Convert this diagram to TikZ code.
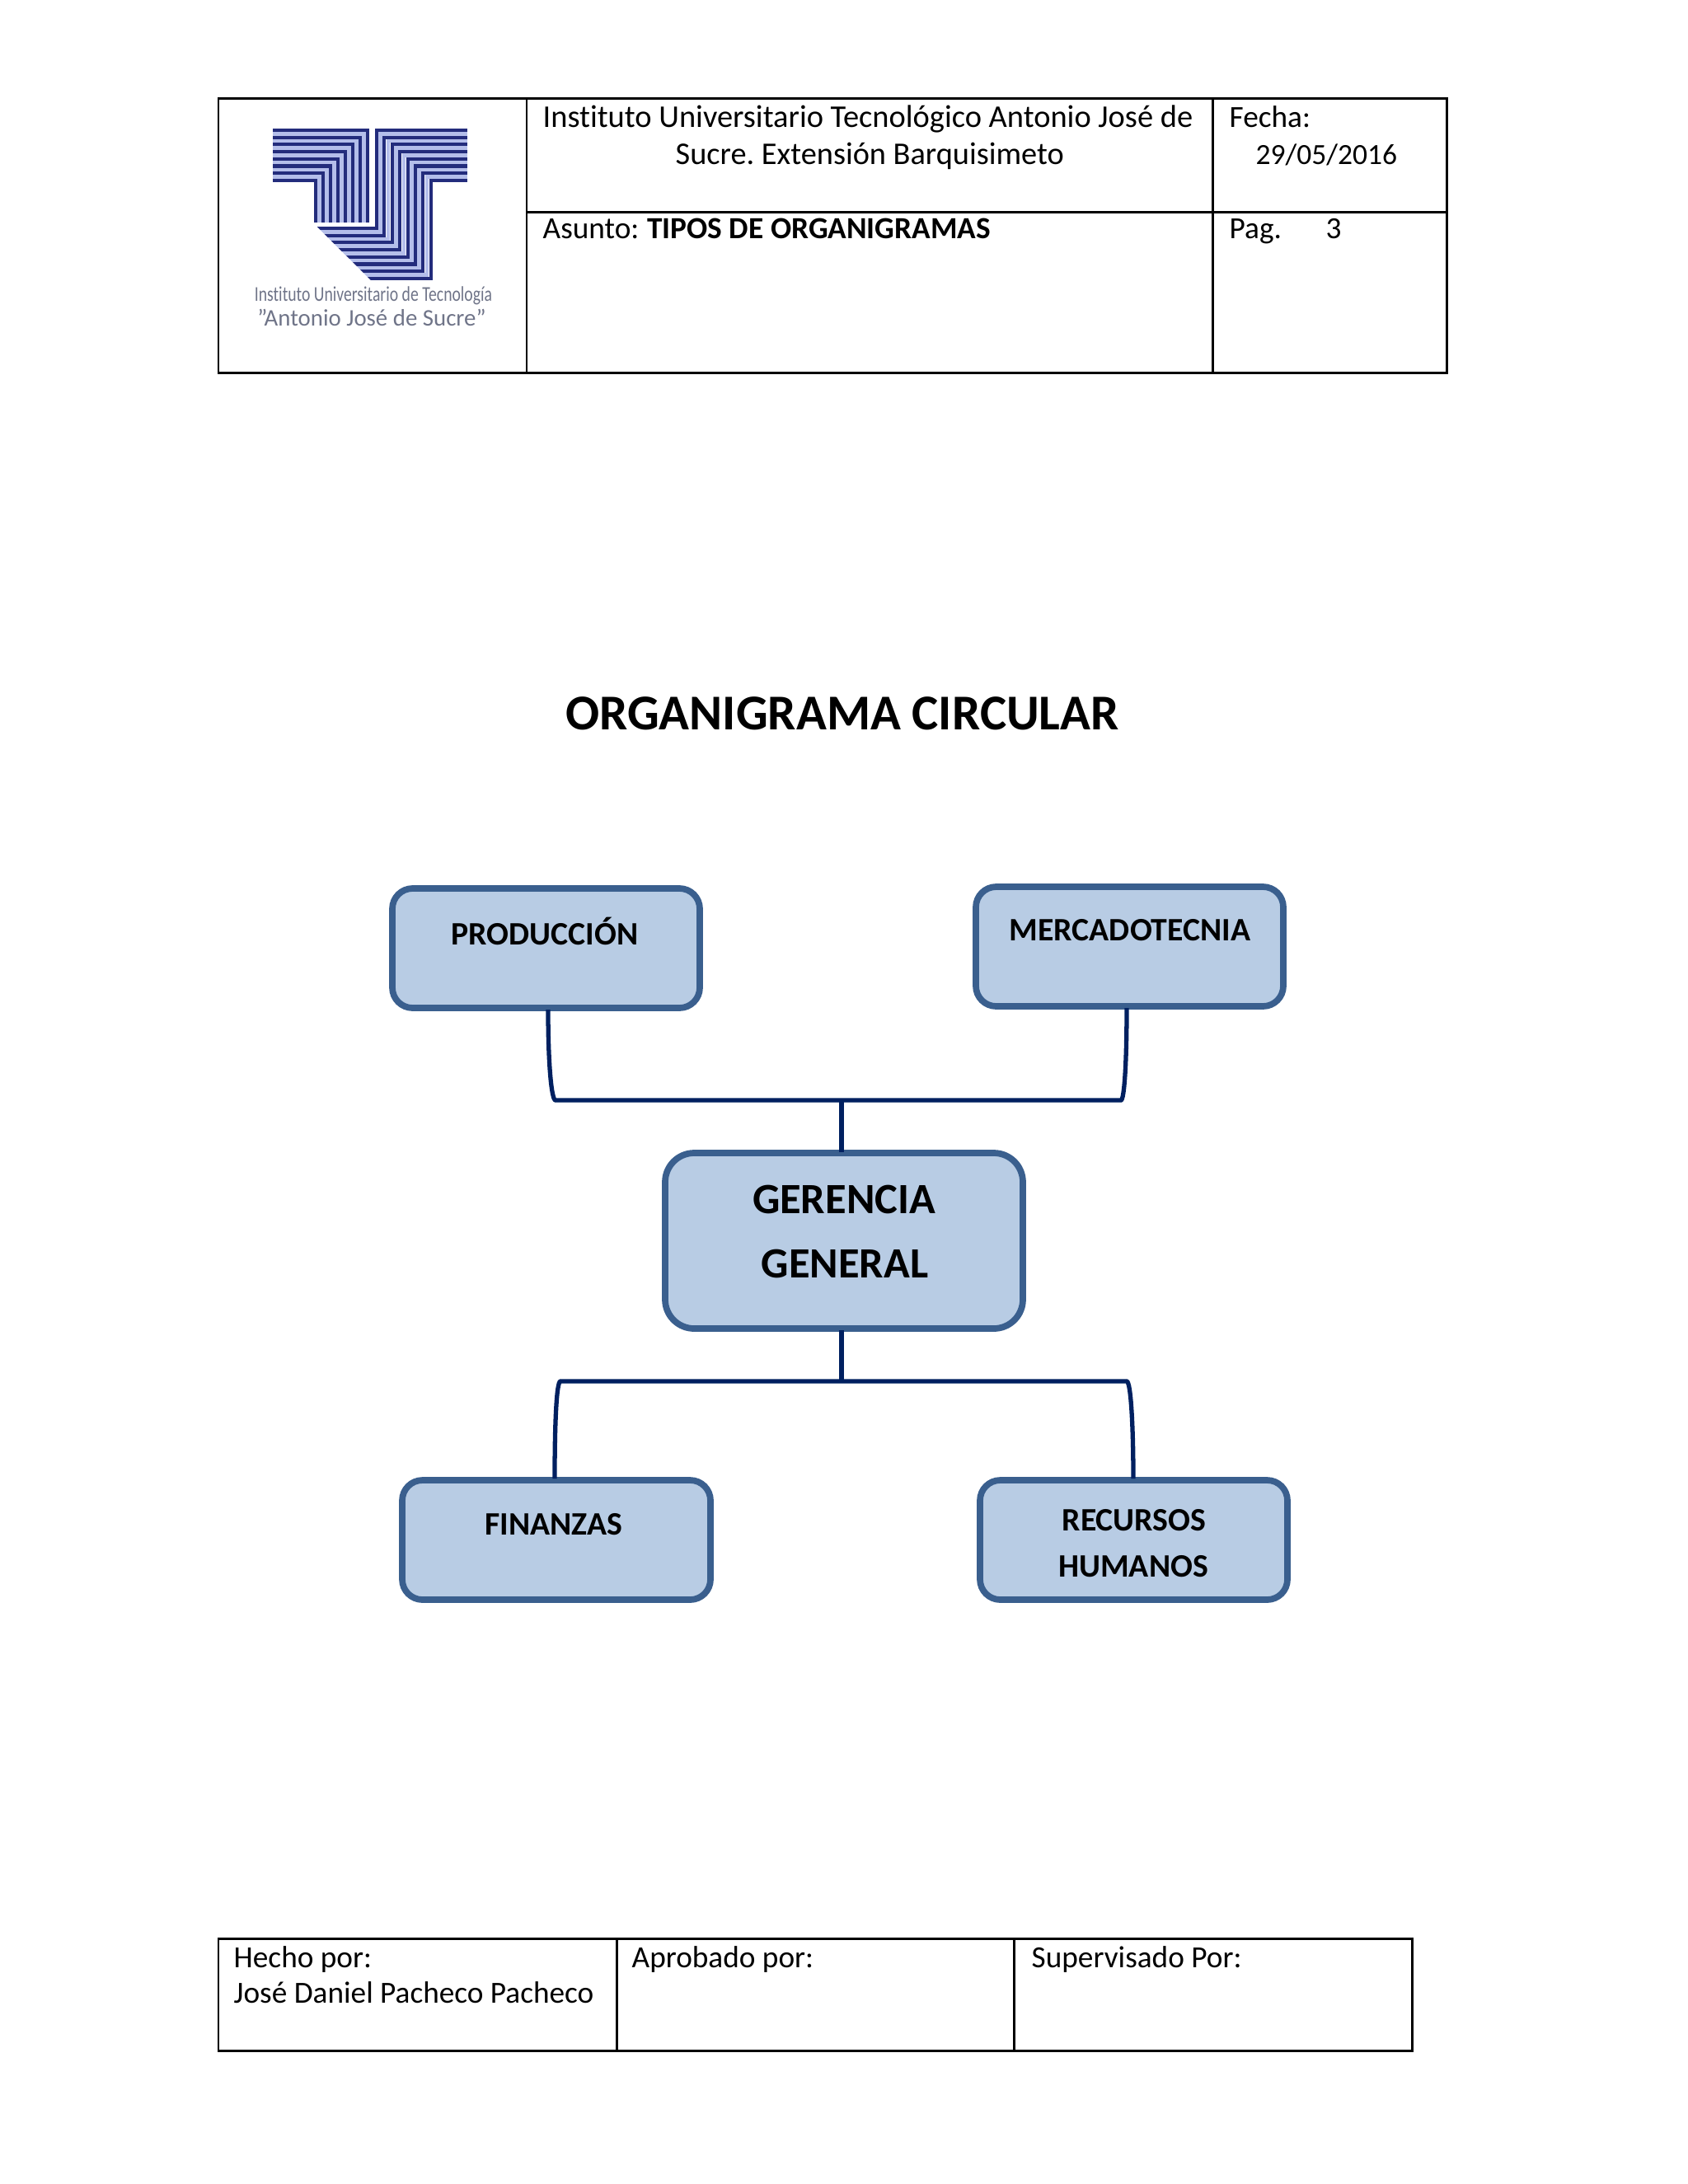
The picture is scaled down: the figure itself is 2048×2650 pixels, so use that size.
\documentclass[tikz,border=0pt]{standalone}
\usepackage{fontspec}
\usepackage{graphicx}
\setmainfont{Carlito}[Ligatures=NoCommon]
\frenchspacing
\definecolor{boxfill}{HTML}{B8CCE4}
\definecolor{boxline}{HTML}{3A5F8E}
\definecolor{conn}{HTML}{002060}
\definecolor{logod}{HTML}{232C7C}
\definecolor{logol}{HTML}{B4BEEA}
\definecolor{logot}{HTML}{6F7488}
\tikzset{
 cell/.style={draw=black,line width=0.85pt},
 orgbox/.style={draw=boxline,fill=boxfill,line width=2.2pt,rounded corners=7pt,inner sep=0pt},
 conline/.style={draw=conn,line width=1.5pt},
 celltxt/.style={inner sep=0pt,font=\fontsize{10.6}{10.6}\selectfont,anchor=base west},
 boxtxt/.style={inner sep=0pt,font=\fontsize{11.3}{11.3}\selectfont\bfseries,anchor=base},
 bigtxt/.style={inner sep=0pt,font=\fontsize{14.9}{14.9}\selectfont\bfseries,anchor=base},
 logobar/.style={line width=1.15pt,draw=logod},
 logogap/.style={line width=1.3pt,draw=logol},
}
\begin{document}
\begin{tikzpicture}[x=0.01cm,y=-0.01cm]
\useasboundingbox (0,0) rectangle (2048,2650);
% header table
\draw[cell] (265,119) rectangle (1755,452);
\draw[cell] (639,119) -- (639,452);
\draw[cell] (1471,119) -- (1471,452);
\draw[cell] (639,257) -- (1755,257);
% logo
\begin{scope}
\clip (320,150) -- (575,150) -- (575,345) -- (455,345) -- (381,271.5) -- (320,271.5) -- cycle;
\foreach \i in {0,...,6}{
 \pgfmathsetmacro{\yy}{158+\i*8.7+4.35}
 \pgfmathsetmacro{\xx}{446-\i*9-4.5}
 \draw[logogap] (331,\yy) -- (\xx,\yy) -- (\xx,270);
 \pgfmathsetmacro{\xr}{457+\i*9.4+4.7}
 \pgfmathsetmacro{\bb}{277+\i*8.7+4.35}
 \draw[logogap] (567,\yy) -- (\xr,\yy) -- (\xr,\bb) -- (370,\bb);
}
\foreach \i in {0,...,7}{
 \pgfmathsetmacro{\yy}{158+\i*8.7}
 \pgfmathsetmacro{\xx}{446-\i*9}
 \draw[logobar] (331,\yy) -- (\xx,\yy) -- (\xx,270);
 \pgfmathsetmacro{\xr}{457+\i*9.4}
 \pgfmathsetmacro{\bb}{277+\i*8.7}
 \draw[logobar] (567,\yy) -- (\xr,\yy) -- (\xr,\bb) -- (370,\bb);
}
\end{scope}
\node[inner sep=0pt,text=logot,font=\fontsize{5.6}{5.6}\selectfont] (logoa) at (453,359) {\scalebox{1}[1.3]{Instituto Universitario de Tecnología}};
\node[inner sep=0pt,text=logot,font=\fontsize{8.2}{8.2}\selectfont] (logob) at (451,385) {"Antonio José de Sucre"};
% header text
\node[celltxt,font=\fontsize{10.93}{10.93}\selectfont] (t1) at (658,154) {Instituto Universitario Tecnológico Antonio José de};
\node[celltxt,font=\fontsize{10.9}{10.9}\selectfont] (t2) at (819,199) {Sucre. Extensión Barquisimeto};
\node[celltxt] (t3) at (658,289) {Asunto:\hspace{0.27em}\textbf{TIPOS DE ORGANIGRAMAS}};
\node[celltxt] (t4) at (1491,154) {Fecha:};
\node[celltxt,font=\fontsize{10.1}{10.1}\selectfont] (t5) at (1523,199) {29/05/2016};
\node[celltxt] (t6) at (1491,289) {Pag.};
\node[celltxt] (t7) at (1608,289) {3};
% title
\node[inner sep=0pt,font=\fontsize{17.3}{17.3}\selectfont\bfseries,anchor=base] (title) at (1022,885) {ORGANIGRAMA CIRCULAR};
% boxes
\draw[orgbox] (476,1078) rectangle (849,1223);
\draw[orgbox] (1184,1076) rectangle (1557,1221);
\draw[orgbox,rounded corners=10pt] (807,1399) rectangle (1241,1612);
\draw[orgbox] (488,1796) rectangle (862,1941);
\draw[orgbox] (1189,1796) rectangle (1562,1941);
\coordinate (prod) at (665,1225);
\coordinate (merc) at (1367,1223);
\coordinate (gertop) at (1021,1398);
\coordinate (gerbot) at (1021,1614);
\coordinate (fin) at (673,1794);
\coordinate (rec) at (1375,1794);
\draw[conline] (prod) .. controls (665,1290) and (669,1335) .. (674,1335) -- (1360,1335) .. controls (1364,1335) and (1367,1290) .. (merc);
\draw[conline] (gertop) -- (1021,1335);
\draw[conline] (gerbot) -- (1021,1676);
\draw[conline] (fin) .. controls (673,1730) and (675,1676) .. (680,1676) -- (1367,1676) .. controls (1372,1676) and (1375,1730) .. (rec);
\node[boxtxt] (p) at (661,1146) {PRODUCCIÓN};
\node[boxtxt] (m) at (1371,1141) {MERCADOTECNIA};
\node[bigtxt] (g1) at (1024,1472) {GERENCIA};
\node[bigtxt] (g2) at (1025,1550) {GENERAL};
\node[boxtxt] (f) at (672,1862) {FINANZAS};
\node[boxtxt] (r1) at (1376,1857) {RECURSOS};
\node[boxtxt] (r2) at (1375,1913) {HUMANOS};
% footer table
\draw[cell] (265,2352) rectangle (1713,2488);
\draw[cell] (748,2352) -- (748,2488);
\draw[cell] (1230,2352) -- (1230,2488);
\node[celltxt] (h1) at (283,2387) {Hecho por:};
\node[celltxt] (h2) at (283,2430) {José Daniel Pacheco Pacheco};
\node[celltxt] (h3) at (766,2387) {Aprobado por:};
\node[celltxt] (h4) at (1251,2387) {Supervisado Por:};
\end{tikzpicture}
\end{document}
